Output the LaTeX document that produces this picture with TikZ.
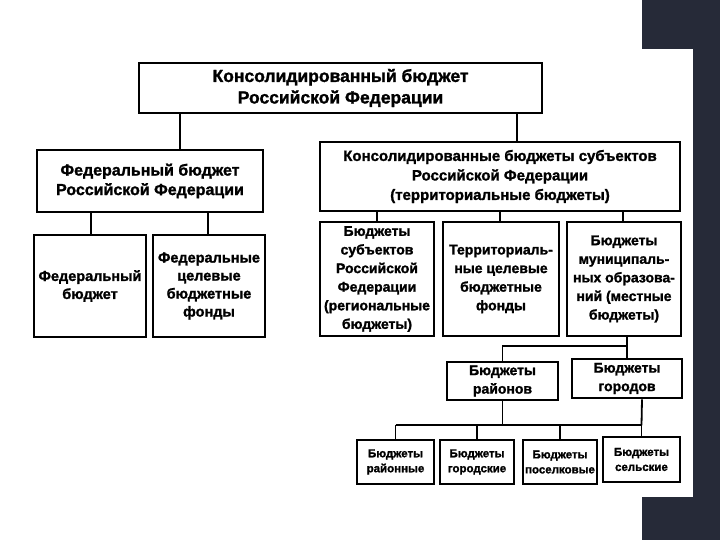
\documentclass[tikz,border=0pt]{standalone}
\usepackage{fontspec}
\setmainfont{Liberation Sans}[BoldFeatures={FakeBold=1.5}]
\usetikzlibrary{calc}
\definecolor{slide}{RGB}{38,42,56}
\tikzset{
  box/.style={draw, line width=2.6pt, inner sep=0pt, align=center, font=\bfseries},
  link/.style={line width=1.8pt}
}
\begin{document}
\begin{tikzpicture}[x=1pt,y=-1pt]
\useasboundingbox (0,0) rectangle (720,540);
\fill[slide] (642,0) -- (720,0) -- (720,540) -- (642,540) -- (642,497) -- (693,497) -- (693,49) -- (642,49) -- cycle;
% upper levels
\node[box,minimum width=403pt,minimum height=50pt,font=\bfseries\fontsize{17.5}{21.5}\selectfont] (top) at (340.5,88) {Консолидированный бюджет\\Российской Федерации};
\node[box,minimum width=226pt,minimum height=62pt,font=\bfseries\fontsize{16}{19.5}\selectfont] (fed) at (150,181) {Федеральный бюджет\\Российской Федерации};
\node[box,minimum width=360pt,minimum height=69pt,font=\bfseries\fontsize{15}{19.5}\selectfont] (cons) at (500,176.5) {Консолидированные бюджеты субъектов\\Российской Федерации\\(территориальные бюджеты)};
% federal side
\node[box,minimum width=112pt,minimum height=102pt,font=\bfseries\fontsize{14.5}{18}\selectfont] (fedb) at (90,286) {Федеральный\\бюджет};
\node[box,minimum width=112pt,minimum height=102pt,font=\bfseries\fontsize{14.5}{18}\selectfont] (fedf) at (209,286) {Федеральные\\целевые\\бюджетные\\фонды};
% territorial side
\node[box,minimum width=114pt,minimum height=114pt,font=\bfseries\fontsize{14}{18.6}\selectfont] (subj) at (377,279) {Бюджеты\\субъектов\\Российской\\Федерации\\(региональные\\бюджеты)};
\node[box,minimum width=116pt,minimum height=114pt,font=\bfseries\fontsize{14}{18.6}\selectfont] (terr) at (501,279) {Территориаль-\\ные целевые\\бюджетные\\фонды};
\node[box,minimum width=114pt,minimum height=114pt,font=\bfseries\fontsize{14}{18.6}\selectfont] (mun) at (624,279) {Бюджеты\\муниципаль-\\ных образова-\\ний (местные\\бюджеты)};
% local budgets
\node[box,minimum width=111pt,minimum height=38pt,font=\bfseries\fontsize{14}{18.5}\selectfont] (rai) at (502.5,381) {Бюджеты\\районов};
\node[box,minimum width=110pt,minimum height=39pt,font=\bfseries\fontsize{14}{18.5}\selectfont] (gor) at (627,378.5) {Бюджеты\\городов};
\node[box,minimum width=77pt,minimum height=44pt,font=\bfseries\fontsize{11.5}{15}\selectfont] (raib) at (395.5,462) {Бюджеты\\районные};
\node[box,minimum width=74pt,minimum height=44pt,font=\bfseries\fontsize{11.5}{15}\selectfont] (gorb) at (477,462) {Бюджеты\\городские};
\node[box,minimum width=74pt,minimum height=44pt,font=\bfseries\fontsize{11.5}{15}\selectfont] (pos) at (560,462) {Бюджеты\\поселковые};
\node[box,minimum width=77pt,minimum height=45pt,font=\bfseries\fontsize{11.5}{15}\selectfont] (sel) at (641.5,459.5) {Бюджеты\\сельские};
% connectors
\draw[link] (fed.north) ++(30,0) coordinate (f1) -- (f1 |- top.south);
\draw[link] (cons.north) ++(17,0) coordinate (c1) -- (c1 |- top.south);
\draw[link] (fedb.north) ++(1,0) coordinate (f2) -- (f2 |- fed.south);
\draw[link] (fedf.north) ++(-1,0) coordinate (f3) -- (f3 |- fed.south);
\foreach \n/\dx in {subj/0,terr/-1,mun/-1}
  \draw[link] (\n.north) ++(\dx,0) coordinate (t) -- (t |- cons.south);
\coordinate (m1) at ($(mun.south)+(3,9)$);
\draw[link] (mun.south) ++(3,0) -- (m1) -- (m1 -| rai.north) -- (rai.north);
\draw[link] (m1) -- (m1 |- gor.north);
\coordinate (r1) at ($(rai.south)+(0,24)$);
\draw[link] (rai.south) -- (r1);
\draw[link] (r1 -| raib.north) -- (r1 -| sel.north) -- (sel.north);
\draw[link] (gor.south) ++(15,0) -- (r1 -| sel.north);
\foreach \n in {raib,gorb,pos}
  \draw[link] (\n.north) -- (\n.north |- r1);
\end{tikzpicture}
\end{document}
